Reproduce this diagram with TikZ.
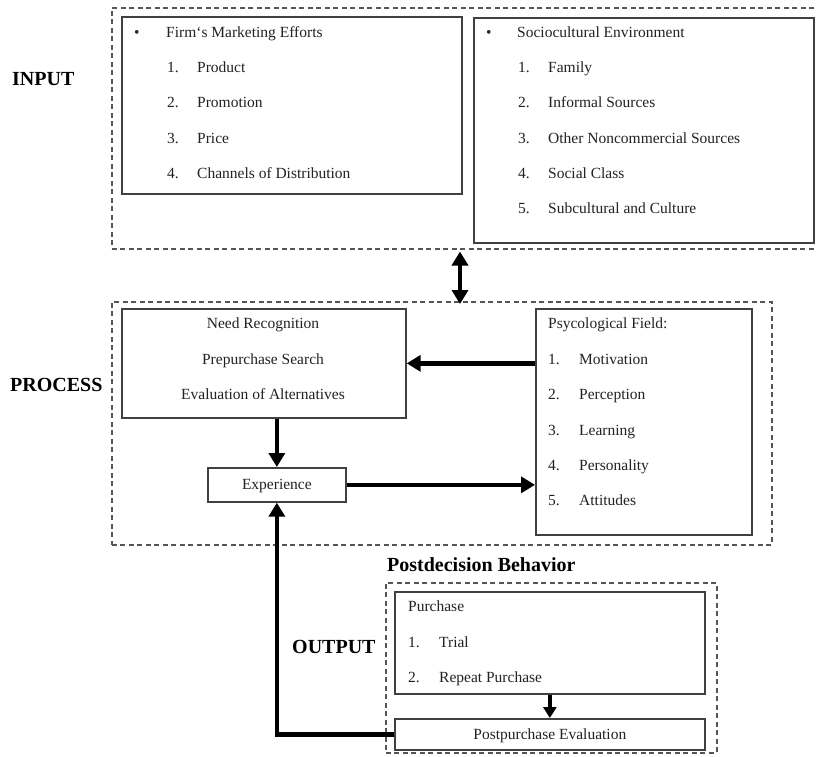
\documentclass[tikz,border=0pt]{standalone}
\usepackage{fontspec}
\setmainfont{Liberation Serif}
\usetikzlibrary{arrows.meta}
\definecolor{boxgray}{HTML}{404040}
\definecolor{dashgray}{HTML}{555555}
\definecolor{textc}{HTML}{222222}
\tikzset{
  box/.style={draw=boxgray, line width=1.7pt, anchor=north west, inner sep=0pt, fill=white},
  dbox/.style={draw=dashgray, line width=1.5pt, dash pattern=on 5pt off 3.5pt, anchor=north west, inner sep=0pt},
  txt/.style={anchor=mid west, inner sep=0pt, yshift=-2.5pt, font=\fontsize{15.5}{18}\selectfont, text=textc},
  ctxt/.style={anchor=mid, inner sep=0pt, yshift=-2.5pt, font=\fontsize{15.5}{18}\selectfont, text=textc},
  lbl/.style={anchor=mid west, inner sep=0pt, font=\fontsize{20}{24}\selectfont\bfseries, text=black},
  arr/.style={draw=black, line width=4.5pt, -{Triangle[length=14pt,width=16pt]}},
  darr/.style={draw=black, line width=4.5pt, {Triangle[length=14pt,width=16pt]}-{Triangle[length=14pt,width=16pt]}},
  sarr/.style={draw=black, line width=3.5pt, -{Triangle[length=11pt,width=13pt]}}
}
\begin{document}
\begin{tikzpicture}[x=1pt,y=-1pt]
\useasboundingbox (0,0) rectangle (817,756);
% dashed group boxes
\node[dbox, minimum width=711pt, minimum height=241pt] (inp) at (111,7) {};
\node[dbox, minimum width=660pt, minimum height=243pt] (proc) at (111,301) {};
\node[dbox, minimum width=331pt, minimum height=170pt] (outp) at (385,582) {};
% solid boxes
\node[box, minimum width=340pt, minimum height=177pt] (firm) at (121,16) {};
\node[box, minimum width=340pt, minimum height=225pt] (socio) at (473,17) {};
\node[box, minimum width=284pt, minimum height=109pt] (nr) at (121,308) {};
\node[box, minimum width=138pt, minimum height=34pt] (exp) at (207,467) {};
\node[box, minimum width=216pt, minimum height=226pt] (psy) at (535,308) {};
\node[box, minimum width=310pt, minimum height=102pt] (pur) at (394,591) {};
\node[box, minimum width=310pt, minimum height=31pt] (post) at (394,718) {};
% labels
\node[lbl] (linput) at (12,83) {INPUT};
\node[lbl] (lproc) at (10,389) {PROCESS};
\node[lbl] (lout) at (292,651) {OUTPUT};
\node[lbl] (lpost) at (387,569) {Postdecision Behavior};
% firm box text
\node[txt] (fb) at (134,33) {•};
\node[txt] (fh) at (166,33) {Firm`s Marketing Efforts};
\node[txt] (f1n) at (167,68) {1.};  \node[txt] (f1) at (197,68) {Product};
\node[txt] (f2n) at (167,103) {2.}; \node[txt] (f2) at (197,103) {Promotion};
\node[txt] (f3n) at (167,139) {3.}; \node[txt] (f3) at (197,139) {Price};
\node[txt] (f4n) at (167,174) {4.}; \node[txt] (f4) at (197,174) {Channels of Distribution};
% socio box text
\node[txt] (sb) at (486,33) {•};
\node[txt] (sh) at (517,33) {Sociocultural Environment};
\node[txt] (s1n) at (518,68) {1.};  \node[txt] (s1) at (548,68) {Family};
\node[txt] (s2n) at (518,103) {2.}; \node[txt] (s2) at (548,103) {Informal Sources};
\node[txt] (s3n) at (518,139) {3.}; \node[txt] (s3) at (548,139) {Other Noncommercial Sources};
\node[txt] (s4n) at (518,174) {4.}; \node[txt] (s4) at (548,174) {Social Class};
\node[txt] (s5n) at (518,209) {5.}; \node[txt] (s5) at (548,209) {Subcultural and Culture};
% need recognition box
\node[ctxt] (nr1) at (263,324) {Need Recognition};
\node[ctxt] (nr2) at (263,360) {Prepurchase Search};
\node[ctxt] (nr3) at (263,395) {Evaluation of Alternatives};
% experience
\node[ctxt] (expt) at (exp.center) {Experience};
% psychological field
\node[txt] (ph) at (548,324) {Psycological Field:};
\node[txt] (p1n) at (548,360) {1.}; \node[txt] (p1) at (579,360) {Motivation};
\node[txt] (p2n) at (548,395) {2.}; \node[txt] (p2) at (579,395) {Perception};
\node[txt] (p3n) at (548,431) {3.}; \node[txt] (p3) at (579,431) {Learning};
\node[txt] (p4n) at (548,466) {4.}; \node[txt] (p4) at (579,466) {Personality};
\node[txt] (p5n) at (548,501) {5.}; \node[txt] (p5) at (579,501) {Attitudes};
% purchase
\node[txt] (puh) at (408,607) {Purchase};
\node[txt] (pu1n) at (408,643) {1.}; \node[txt] (pu1) at (439,643) {Trial};
\node[txt] (pu2n) at (408,678) {2.}; \node[txt] (pu2) at (439,678) {Repeat Purchase};
% postpurchase
\node[ctxt] (postt) at (post.center) {Postpurchase Evaluation};
% connectors
\coordinate (dax) at (460,0);
\draw[darr] (inp.south -| dax) ++(0,2) -- ([yshift=-3pt]proc.north -| dax);
\draw[arr] (psy.west |- nr.east) -- (nr.east);
\draw[arr] (nr.south -| exp.north) -- (exp.north);
\draw[arr] (exp.east) -- (exp.east -| psy.west);
\draw[sarr] (pur.south) -- (post.north);
\draw[arr] (post.west) -- (post.west -| exp.south) -- (exp.south);
\end{tikzpicture}
\end{document}
